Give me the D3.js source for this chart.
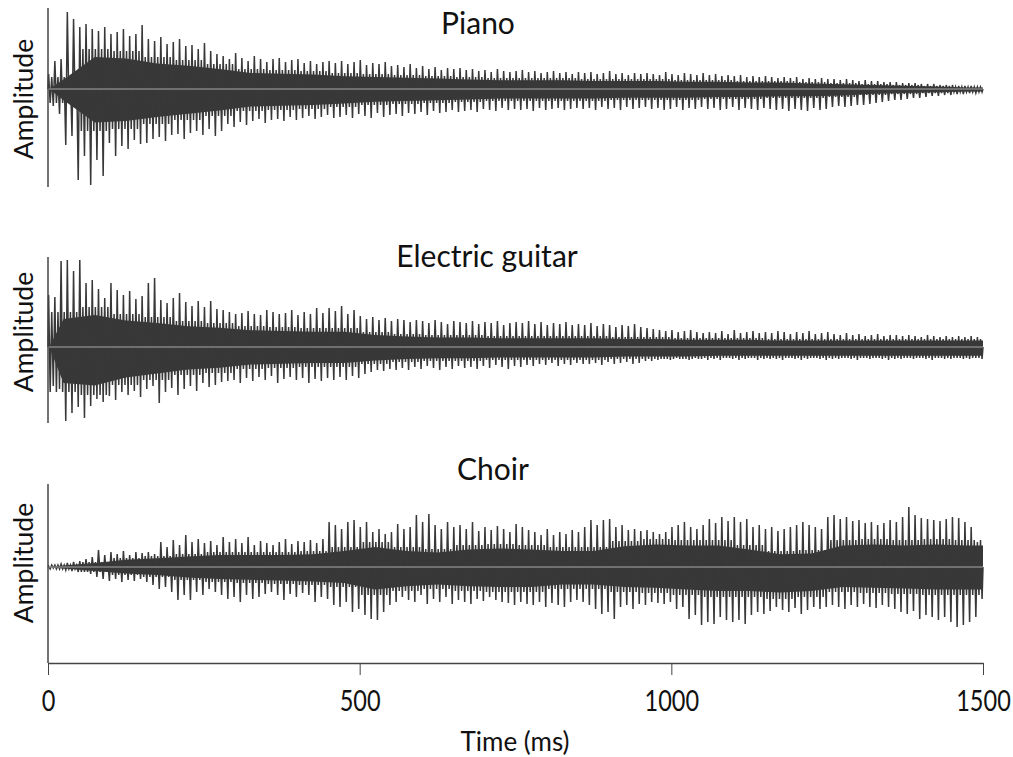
<!DOCTYPE html>
<html>
<head>
<meta charset="utf-8">
<script src="https://cdn.jsdelivr.net/npm/d3@7"></script>
<style>
  body { margin: 0; background: #fff; }
  text { font-family: Lato, "Open Sans", sans-serif; fill: #111; }
</style>
</head>
<body>
<svg id="chart"></svg>
<script>
// waveform peaks, one hi/lo pair per 10 ms bin (0..1490 ms)
const BIN_MS = 10;
const BODY_MS = 50;
const TIME_TICKS = [0, 500, 1000, 1500];
const PANEL_NAMES = ["Piano", "Electric guitar", "Choir"];

const PIANO_HI = [15, 28, 30, 77, 70, 62,
  65, 60, 58, 62, 55, 57, 60, 53, 55, 64,
  50, 48, 52, 45, 47, 50, 43, 44, 40, 46,
  38, 35, 33, 30, 36, 31, 28, 33, 30, 27,
  30, 31, 27, 29, 30, 26, 28, 25, 27, 28,
  26, 28, 25, 27, 29, 24, 26, 25, 27, 23,
  24, 22, 25, 21, 23, 20, 22, 19, 21, 20,
  21, 19, 20, 18, 19, 17, 20, 18, 17, 18,
  19, 17, 18, 16, 17, 18, 16, 17, 15, 17,
  16, 17, 15, 16, 18, 15, 16, 14, 16, 15,
  16, 15, 14, 17, 15, 14, 16, 15, 14, 16,
  14, 15, 13, 14, 13, 14, 12, 13, 12, 13,
  12, 11, 12, 11, 12, 10, 11, 10, 11, 10,
  10, 9, 10, 9, 8, 9, 8, 8, 7, 7,
  7, 6, 6, 6, 5, 5, 5, 4, 4, 4,
  3, 3, 3, 2];
const PIANO_LO = [-17, -25, -56, -47, -91, -67,
  -96, -71, -87, -54, -67, -57, -60, -51, -55, -54,
  -50, -48, -52, -46, -45, -50, -44, -42, -46, -40,
  -47, -42, -35, -38, -33, -36, -32, -30, -34, -31,
  -30, -32, -28, -31, -29, -27, -30, -28, -26, -29,
  -28, -26, -29, -25, -27, -29, -24, -28, -26, -25,
  -27, -24, -25, -23, -26, -22, -24, -23, -21, -23,
  -22, -21, -23, -20, -21, -22, -19, -21, -20, -21,
  -20, -22, -19, -21, -20, -19, -21, -20, -19, -20,
  -19, -21, -18, -20, -19, -21, -18, -20, -19, -18,
  -20, -19, -21, -20, -18, -21, -19, -20, -18, -20,
  -19, -21, -20, -18, -21, -19, -20, -21, -19, -20,
  -21, -20, -22, -20, -21, -22, -19, -21, -20, -18,
  -17, -18, -17, -16, -16, -15, -14, -13, -12, -11,
  -11, -10, -9, -9, -8, -7, -7, -6, -6, -5,
  -5, -4, -4, -3];
// dense dark core of each wave, one value per 50 ms
const PIANO_BODY_HI = [12, 40, 38, 32, 29, 25, 20, 19, 18, 16, 15, 14, 13, 12, 11,
  11, 11, 10, 10, 10, 9, 9, 8, 8, 7, 6, 5, 4, 3, 2];
const PIANO_BODY_LO = [-14, -42, -40, -35, -31, -27, -22, -21, -20, -18, -16, -15, -14, -13, -12,
  -12, -12, -12, -11, -11, -11, -10, -10, -9, -9, -8, -6, -5, -4, -3];

const GUITAR_HI = [52, 50, 86, 87, 76, 87,
  64, 67, 58, 49, 64, 57, 52, 56, 48, 51,
  64, 69, 47, 44, 49, 54, 45, 41, 46, 40,
  46, 38, 37, 35, 33, 34, 36, 33, 32, 37,
  35, 33, 34, 37, 32, 35, 33, 39, 34, 39,
  36, 41, 33, 37, 31, 28, 30, 27, 29, 26,
  28, 27, 25, 27, 26, 24, 27, 25, 23, 26,
  25, 24, 26, 23, 25, 24, 26, 22, 24, 25,
  24, 26, 23, 25, 22, 24, 23, 25, 22, 23,
  22, 24, 21, 23, 22, 20, 22, 21, 23, 20,
  19, 18, 17, 16, 17, 15, 16, 17, 15, 14,
  15, 14, 16, 13, 17, 14, 15, 16, 14, 15,
  14, 16, 15, 13, 15, 14, 16, 13, 14, 15,
  13, 12, 14, 12, 13, 11, 12, 13, 11, 12,
  12, 11, 12, 11, 10, 12, 11, 10, 11, 10,
  11, 10, 11, 10];
const GUITAR_LO = [-39, -42, -74, -66, -60, -71,
  -59, -52, -55, -49, -53, -45, -48, -44, -50, -42,
  -39, -56, -45, -41, -48, -42, -39, -44, -36, -40,
  -38, -35, -34, -33, -36, -31, -34, -30, -33, -29,
  -36, -32, -30, -33, -31, -36, -32, -34, -31, -33,
  -30, -33, -29, -31, -27, -25, -23, -24, -22, -23,
  -21, -23, -20, -22, -19, -21, -23, -20, -22, -19,
  -21, -20, -22, -19, -21, -18, -20, -22, -19, -20,
  -18, -19, -17, -18, -16, -19, -17, -18, -16, -17,
  -17, -16, -18, -15, -17, -16, -15, -17, -16, -14,
  -14, -13, -12, -13, -11, -12, -13, -11, -12, -13,
  -12, -13, -11, -12, -13, -12, -11, -13, -12, -12,
  -12, -13, -11, -12, -13, -12, -11, -12, -13, -12,
  -12, -11, -12, -13, -11, -12, -11, -12, -13, -12,
  -12, -11, -12, -11, -12, -13, -11, -12, -12, -11,
  -12, -12, -11, -12];
const GUITAR_BODY_HI = [35, 40, 33, 30, 26, 24, 21, 20, 19, 19, 15, 13, 12, 12, 11,
  11, 11, 11, 10, 10, 9, 9, 9, 8, 8, 8, 8, 8, 8, 8];
const GUITAR_BODY_LO = [-45, -48, -38, -33, -28, -26, -22, -21, -20, -20, -17, -15, -14, -14, -13,
  -13, -13, -13, -12, -12, -12, -11, -11, -11, -11, -11, -11, -11, -11, -11];

const CHOIR_HI = [1, 2, 3, 4, 5, 6,
  8, 10, 17, 12, 15, 13, 16, 12, 15, 14,
  15, 13, 25, 20, 27, 22, 32, 25, 28, 24,
  26, 22, 30, 25, 28, 24, 30, 22, 26, 24,
  22, 25, 28, 23, 26, 25, 27, 24, 28, 45,
  42, 38, 45, 47, 40, 45, 35, 38, 33, 35,
  43, 38, 40, 52, 45, 53, 42, 38, 45, 40,
  42, 38, 45, 36, 40, 37, 41, 38, 35, 43,
  40, 37, 35, 32, 38, 32, 35, 33, 37, 35,
  40, 47, 42, 47, 48, 40, 42, 37, 38, 36,
  37, 35, 33, 35, 40, 42, 45, 40, 38, 42,
  48, 44, 50, 46, 50, 45, 48, 40, 42, 38,
  40, 36, 38, 40, 42, 45, 42, 40, 38, 50,
  52, 48, 50, 46, 47, 44, 45, 42, 44, 47,
  45, 50, 60, 52, 49, 48, 47, 46, 48, 50,
  49, 45, 40, 25];
const CHOIR_LO = [-1, -2, -3, -4, -5, -5,
  -7, -10, -12, -14, -12, -15, -13, -14, -12, -15,
  -18, -22, -20, -25, -33, -28, -33, -25, -28, -22,
  -25, -28, -32, -30, -35, -28, -32, -30, -27, -25,
  -28, -33, -27, -30, -26, -28, -35, -30, -32, -38,
  -40, -35, -45, -42, -48, -52, -53, -45, -38, -35,
  -30, -33, -35, -28, -37, -32, -35, -30, -37, -33,
  -35, -37, -32, -34, -30, -33, -35, -36, -38, -35,
  -37, -38, -35, -40, -36, -38, -40, -35, -33, -35,
  -38, -42, -47, -45, -52, -40, -38, -42, -37, -38,
  -35, -36, -37, -35, -42, -40, -52, -48, -58, -55,
  -57, -50, -53, -55, -53, -57, -48, -45, -47, -44,
  -40, -43, -45, -41, -47, -43, -40, -42, -40, -38,
  -40, -42, -38, -40, -37, -40, -41, -38, -40, -42,
  -45, -47, -44, -52, -48, -50, -53, -50, -55, -60,
  -58, -55, -50, -32];
const CHOIR_BODY_HI = [2, 5, 9, 11, 13, 15, 15, 15, 16, 20, 25, 20, 18, 22, 23,
  22, 20, 20, 26, 28, 27, 27, 22, 16, 17, 27, 28, 27, 28, 27];
const CHOIR_BODY_LO = [-2, -5, -8, -10, -13, -15, -16, -17, -18, -20, -28, -24, -22, -24, -25,
  -25, -22, -22, -25, -26, -28, -30, -30, -32, -30, -25, -26, -27, -28, -28];

const W = 1013, H = 757;
const AMP = 90;  // amplitude units shown above/below the zero line
const WAVE = "#383838";

const series = [
  { hi: PIANO_HI, lo: PIANO_LO, bodyHi: PIANO_BODY_HI, bodyLo: PIANO_BODY_LO },
  { hi: GUITAR_HI, lo: GUITAR_LO, bodyHi: GUITAR_BODY_HI, bodyLo: GUITAR_BODY_LO },
  { hi: CHOIR_HI, lo: CHOIR_LO, bodyHi: CHOIR_BODY_HI, bodyLo: CHOIR_BODY_LO },
];

const layout = [
  { zero: 89,  top: 8,   bottom: 187, tx: 478, ty: 34,  ly: 99 },
  { zero: 347, top: 257, bottom: 423, tx: 487, ty: 267, ly: 332 },
  { zero: 567, top: 484, bottom: 663, tx: 493, ty: 480, ly: 563 },
];

const svg = d3.select("#chart").attr("width", W).attr("height", H);
svg.append("rect").attr("width", W).attr("height", H).attr("fill", "#fff");

const x = d3.scaleLinear().domain([0, 1500]).range([48, 983]);

series.forEach(function (s, k) {
  const L = layout[k];
  const y = d3.scaleLinear().domain([-AMP, AMP]).range([L.zero + AMP, L.zero - AMP]);
  const g = svg.append("g");

  // solid core, slightly inside the read values so the spikes keep it ragged
  const core = [{ t: 2, hi: 0, lo: 0 }];
  for (let i = 0; i < s.bodyHi.length; i++) {
    core.push({ t: i * BODY_MS + BODY_MS / 2, hi: s.bodyHi[i], lo: s.bodyLo[i] });
  }
  core.push({ t: 1500, hi: s.bodyHi[s.bodyHi.length - 1], lo: s.bodyLo[s.bodyLo.length - 1] });

  const area = d3.area()
    .x(d => x(d.t))
    .y0(d => y(d.lo * 0.8))
    .y1(d => y(d.hi * 0.8))
    .curve(d3.curveLinear);

  g.append("path")
    .datum(core)
    .attr("d", area)
    .attr("fill", WAVE);

  // per 10 ms bin: big swing up to hi, short swing inside the core, big swing down to lo
  const pts = [{ t: 0, v: 0 }];
  for (let i = 0; i < s.hi.length; i++) {
    const t0 = i * BIN_MS;
    const b = Math.floor(t0 / BODY_MS);
    pts.push({ t: t0 + 1, v: s.hi[i] });
    pts.push({ t: t0 + 3.5, v: s.bodyLo[b] });
    pts.push({ t: t0 + 6, v: s.bodyHi[b] });
    pts.push({ t: t0 + 8.5, v: s.lo[i] });
  }
  pts.push({ t: 1500, v: 0 });

  const line = d3.line().x(d => x(d.t)).y(d => y(d.v));
  g.append("path")
    .datum(pts)
    .attr("d", line)
    .attr("fill", "none")
    .attr("stroke", WAVE)
    .attr("stroke-width", 1.5)
    .attr("stroke-linejoin", "miter");

  // zero line
  g.append("line")
    .attr("x1", x(0)).attr("x2", x(1500))
    .attr("y1", y(0)).attr("y2", y(0))
    .attr("stroke", "#a9a9a9")
    .attr("stroke-width", 1);

  // left axis line (no ticks)
  g.append("line")
    .attr("x1", x(0)).attr("x2", x(0))
    .attr("y1", L.top).attr("y2", L.bottom)
    .attr("stroke", "#444")
    .attr("stroke-width", 1.5);

  g.append("text")
    .attr("x", L.tx).attr("y", L.ty)
    .attr("text-anchor", "middle")
    .style("font-size", "30px")
    .text(PANEL_NAMES[k]);

  g.append("text")
    .attr("transform", "translate(33," + L.ly + ") rotate(-90)")
    .attr("text-anchor", "middle")
    .style("font-size", "26.5px")
    .text("Amplitude");
});

// time axis under the last panel
const xAxis = d3.axisBottom(x)
  .tickValues(TIME_TICKS)
  .tickSize(12)
  .tickSizeOuter(0)
  .tickPadding(16)
  .tickFormat(d3.format("d"));

const ax = svg.append("g")
  .attr("transform", "translate(0," + layout[2].bottom + ")")
  .call(xAxis);
ax.select(".domain").attr("stroke", "#444").attr("stroke-width", 1.5);
ax.selectAll(".tick line").attr("stroke", "#444").attr("stroke-width", 1);
ax.selectAll(".tick text")
  .attr("fill", "#111")
  .attr("transform", "scale(0.84,1)")
  .style("font-family", "Lato, 'Open Sans', sans-serif")
  .style("font-size", "28px");

svg.append("text")
  .attr("x", 515).attr("y", 751)
  .attr("text-anchor", "middle")
  .style("font-size", "26px")
  .text("Time (ms)");
</script>
</body>
</html>
